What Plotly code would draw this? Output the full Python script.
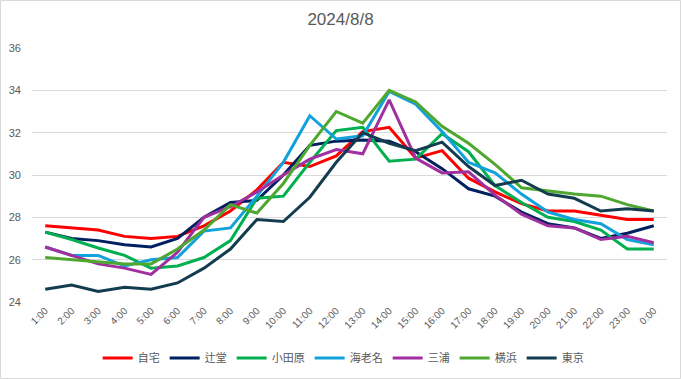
import plotly.graph_objects as go

hours = ["1:00", "2:00", "3:00", "4:00", "5:00", "6:00", "7:00", "8:00", "9:00", "10:00",
         "11:00", "12:00", "13:00", "14:00", "15:00", "16:00", "17:00", "18:00", "19:00",
         "20:00", "21:00", "22:00", "23:00", "0:00"]

jitaku = [27.6, 27.5, 27.4, 27.1, 27.0, 27.1, 27.6, 28.3, 29.3, 30.6, 30.4, 30.9,
          32.05, 32.25, 30.8, 31.15, 29.85, 29.2, 28.65, 28.3, 28.3, 28.1, 27.9, 27.9]
tsujido = [27.3, 27.0, 26.9, 26.7, 26.6, 27.0, 28.0, 28.7, 28.8, 30.0, 31.4, 31.6,
           31.65, 31.6, 31.1, 30.3, 29.35, 29.0, 28.25, 27.7, 27.5, 27.0, 27.25, 27.6]
odawara = [27.3, 26.95, 26.55, 26.2, 25.6, 25.7, 26.1, 26.9, 28.9, 29.0, 30.6, 32.1,
           32.25, 30.65, 30.75, 31.95, 31.1, 29.5, 28.7, 28.0, 27.8, 27.4, 26.5, 26.5]
ebina = [26.6, 26.2, 26.2, 25.7, 26.0, 26.1, 27.35, 27.5, 29.0, 30.6, 32.8, 31.7,
         31.85, 33.95, 33.35, 32.05, 30.6, 30.1, 29.1, 28.25, 27.9, 27.7, 26.95, 26.7]
miura = [26.6, 26.2, 25.8, 25.6, 25.3, 26.35, 28.0, 28.5, 29.2, 30.0, 30.75, 31.2,
         31.0, 33.55, 30.8, 30.1, 30.15, 29.05, 28.15, 27.6, 27.5, 26.95, 27.1, 26.8]
yokohama = [26.1, 26.0, 25.9, 25.8, 25.8, 26.5, 27.4, 28.6, 28.2, 29.6, 31.4, 33.0,
            32.45, 34.0, 33.45, 32.3, 31.5, 30.5, 29.4, 29.25, 29.1, 29.0, 28.6, 28.3]
tokyo = [24.6, 24.8, 24.5, 24.7, 24.6, 24.9, 25.6, 26.5, 27.9, 27.8, 28.95, 30.6,
         32.0, 31.5, 31.15, 31.55, 30.4, 29.5, 29.75, 29.1, 28.9, 28.3, 28.4, 28.3]

series_names = ["自宅", "辻堂", "小田原", "海老名", "三浦", "横浜", "東京"]
series_values = [jitaku, tsujido, odawara, ebina, miura, yokohama, tokyo]
series_colors = ["#FF0000", "#002060", "#00B050", "#12A2DB", "#A0309F", "#4EA72E", "#133C50"]

y_ticks = [24, 26, 28, 30, 32, 34, 36]
title_text = "2024/8/8"

fig = go.Figure()
for name, vals, col in zip(series_names, series_values, series_colors):
    fig.add_trace(go.Scatter(x=hours, y=vals, mode="lines", name=name,
                             line=dict(color=col, width=3)))

W, H = 681, 379
ml, mr, mt, mb = 32, 14, 48, 77
pw, ph = W - ml - mr, H - mt - mb

fig.update_layout(
    width=W, height=H,
    margin=dict(l=ml, r=mr, t=mt, b=mb, autoexpand=False),
    paper_bgcolor="white", plot_bgcolor="white",
    font=dict(family="Liberation Sans, Arial, sans-serif", color="#595959", size=11),
    title=dict(text=title_text, x=0.5, xanchor="center", y=1 - 19 / H, yanchor="middle",
               font=dict(size=17, color="#595959")),
    xaxis=dict(type="category", range=[-0.5, 23.5], tickangle=-45, showgrid=False,
               showline=False, ticks="", tickfont=dict(size=10, color="#595959"),
               zeroline=False, automargin=False),
    yaxis=dict(range=[24, 36], tickvals=y_ticks, showgrid=True, gridcolor="#D9D9D9",
               gridwidth=1, zeroline=False, showline=False, ticks="",
               tickfont=dict(size=11, color="#595959"), ticklabelstandoff=10,
               automargin=False),
    showlegend=True,
    legend=dict(orientation="h", x=0.49, xanchor="center", y=-(358 - mt - ph) / ph,
                yanchor="middle", font=dict(size=11, color="#595959",
                family="Noto Sans CJK JP, sans-serif"),
                itemwidth=30, tracegroupgap=0, bgcolor="rgba(0,0,0,0)"),
    shapes=[dict(type="rect", xref="paper", yref="paper",
                 x0=-(ml - 0.5) / pw, x1=1 + (mr - 0.5) / pw,
                 y0=-(mb - 0.5) / ph, y1=1 + (mt - 0.5) / ph,
                 line=dict(color="#D9D9D9", width=1), layer="below")],
)

fig.write_html("out.html", config={"displayModeBar": False},
               post_script="document.body.style.margin='0';document.body.style.overflow='hidden';")
